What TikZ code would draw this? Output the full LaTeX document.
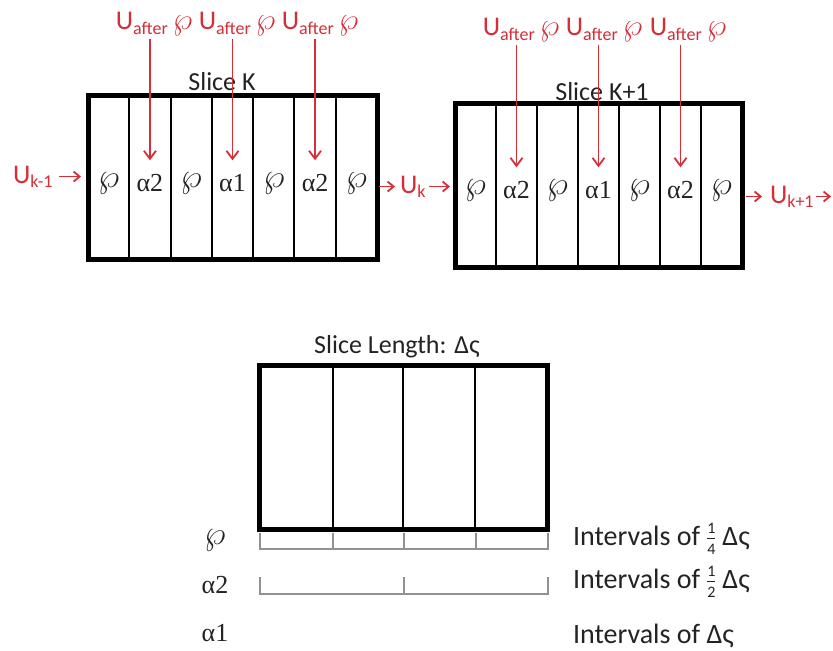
\RequirePackage{fix-cm}
\documentclass[tikz,border=0pt]{standalone}
\usepackage{graphicx}
\usepackage{fontspec}
\setmainfont{Carlito}
\newfontfamily\grk{Liberation Serif}
\usetikzlibrary{arrows.meta,calc}
\definecolor{ured}{RGB}{214,45,55}
\definecolor{ink}{RGB}{35,35,35}
\definecolor{brkgray}{RGB}{145,145,145}
\newcommand\myfrac[2]{\ensuremath{\frac{\mbox{\fontsize{8}{8}\selectfont #1}}{\mbox{\fontsize{8}{8}\selectfont #2}}}}
\newcommand\wpx{\raisebox{0.5pt}{\scalebox{1.3}{$\wp$}}}
\newcommand\agr[1]{{\grk α#1}}
\newcommand\uaft{U\raisebox{-2.2pt}{\fontsize{9}{9}\selectfont after}\hspace{2.5pt}\scalebox{1.15}{$\wp$}}
\newcommand\usub[1]{U\raisebox{-2.2pt}{\fontsize{9}{9}\selectfont #1}}
\begin{document}
\begin{tikzpicture}[x=0.5pt,y=-0.5pt,
  every node/.style={inner sep=0pt, outer sep=0pt, text=ink},
  lbl/.style={font=\fontsize{13}{15}\selectfont},
  ilbl/.style={font=\fontsize{14}{16}\selectfont},
  ulbl/.style={font=\fontsize{13.5}{16}\selectfont, text=ured},
  bigbox/.style={draw=black, line width=2.5pt, fill=none, outer sep=0pt},
  div/.style={line width=1pt},
  rarr/.style={draw=ured, line width=0.9pt, -{Straight Barb[length=4pt,width=6pt]}},
  harr/.style={draw=ured, line width=0.9pt, -{Straight Barb[length=3pt,width=5pt]}},
  brk/.style={draw=brkgray, line width=0.8pt}]
\useasboundingbox (0,0) rectangle (833,650);

% ---------- Slice K ----------
\node[bigbox, minimum width=144.5pt, minimum height=82pt] (boxK) at (232.5,177) {};
\foreach \i in {1,...,6}
  \draw[div] ({88+41.2857*\i},95) -- ({88+41.2857*\i},259);
\foreach \t [count=\i] in {\wpx,\agr{2},\wpx,\agr{1},\wpx,\agr{2},\wpx}
  \node[lbl] (kc\i) at ({88+41.2857*(\i-0.5)},183) {\t};
\node[lbl] (tK) at (222,82) {Slice K};

\node[ulbl] (ua1) at (154,24) {\uaft};
\node[ulbl] (ua2) at (237,24) {\uaft};
\node[ulbl] (ua3) at (320,24) {\uaft};
\draw[rarr] ([yshift=-1.5pt]ua1.south -| kc2) -- ($(kc2.north)+(0,-14)$);
\draw[rarr] ([yshift=-1.5pt]ua2.south -| kc4) -- ($(kc4.north)+(0,-14)$);
\draw[rarr] ([yshift=-1.5pt]ua3.south -| kc6) -- ($(kc6.north)+(0,-14)$);

% ---------- Slice K+1 ----------
\node[bigbox, minimum width=143.5pt, minimum height=82pt] (boxL) at (598.5,185) {};
\foreach \i in {1,...,6}
  \draw[div] ({455+41*\i},103) -- ({455+41*\i},267);
\foreach \t [count=\i] in {\wpx,\agr{2},\wpx,\agr{1},\wpx,\agr{2},\wpx}
  \node[lbl] (lc\i) at ({455+41*(\i-0.5)},190) {\t};
\node[lbl] (tL) at (602,92) {Slice K+1};

\node[ulbl] (ub1) at (521,30) {\uaft};
\node[ulbl] (ub2) at (604,30) {\uaft};
\node[ulbl] (ub3) at (688,30) {\uaft};
\draw[rarr] ([yshift=-1.5pt]ub1.south -| lc2) -- ($(lc2.north)+(0,-14)$);
\draw[rarr] ([yshift=-1.5pt]ub2.south -| lc4) -- ($(lc4.north)+(0,-14)$);
\draw[rarr] ([yshift=-1.5pt]ub3.south -| lc6) -- ($(lc6.north)+(0,-14)$);

% ---------- U flow ----------
\node[ulbl, anchor=base west] (ukm) at (13,183) {\usub{k-1}};
\node[ulbl, anchor=base west] (uk) at (400,193) {\usub{k}};
\node[ulbl, anchor=base west] (ukp) at (770,203) {\usub{k+1}};
\coordinate (rend) at (831,190);
\draw[harr] ([xshift=3.5pt]ukm.east) -- ([xshift=-3.5pt]ukm.east -| boxK.west);
\draw[harr] ([xshift=1pt]uk.west -| boxK.east) -- ([xshift=-2.5pt]uk.west);
\draw[harr] ([xshift=1.5pt]uk.east) -- ([xshift=-2.5pt]uk.east -| boxL.west);
\draw[harr] ([xshift=2pt]ukp.west -| boxL.east) -- ([xshift=-4pt]ukp.west);
\draw[harr] ([xshift=1pt]ukp.east) -- (ukp.east -| rend);

% ---------- Slice length ----------
\node[bigbox, minimum width=144pt, minimum height=82pt] (boxS) at (403,447) {};
\foreach \x in {333,403,475}
  \draw[div] (\x,365) -- (\x,529);
\node[lbl] (tS) at (397,347) {Slice Length: Δς};

\draw[brk] (260,533) -- (260,549) -- (548,549) -- (548,533);
\foreach \x in {333,404,476}
  \draw[brk] (\x,533) -- (\x,549);
\draw[brk] (260,577) -- (260,594) -- (548,594) -- (548,577);
\draw[brk] (404,577) -- (404,594);

\node[lbl] (rw) at (215,540) {\wpx};
\node[lbl] (ra2) at (215,585) {\agr{2}};
\node[lbl] (ra1) at (215,633) {\agr{1}};

\node[ilbl, anchor=base west] (i1) at (573,545) {Intervals of\,\myfrac{1}{4}\,Δς};
\node[ilbl, anchor=base west] (i2) at (573,588) {Intervals of\,\myfrac{1}{2}\,Δς};
\node[ilbl, anchor=base west] (i3) at (573,643) {Intervals of Δς};
\end{tikzpicture}
\end{document}
